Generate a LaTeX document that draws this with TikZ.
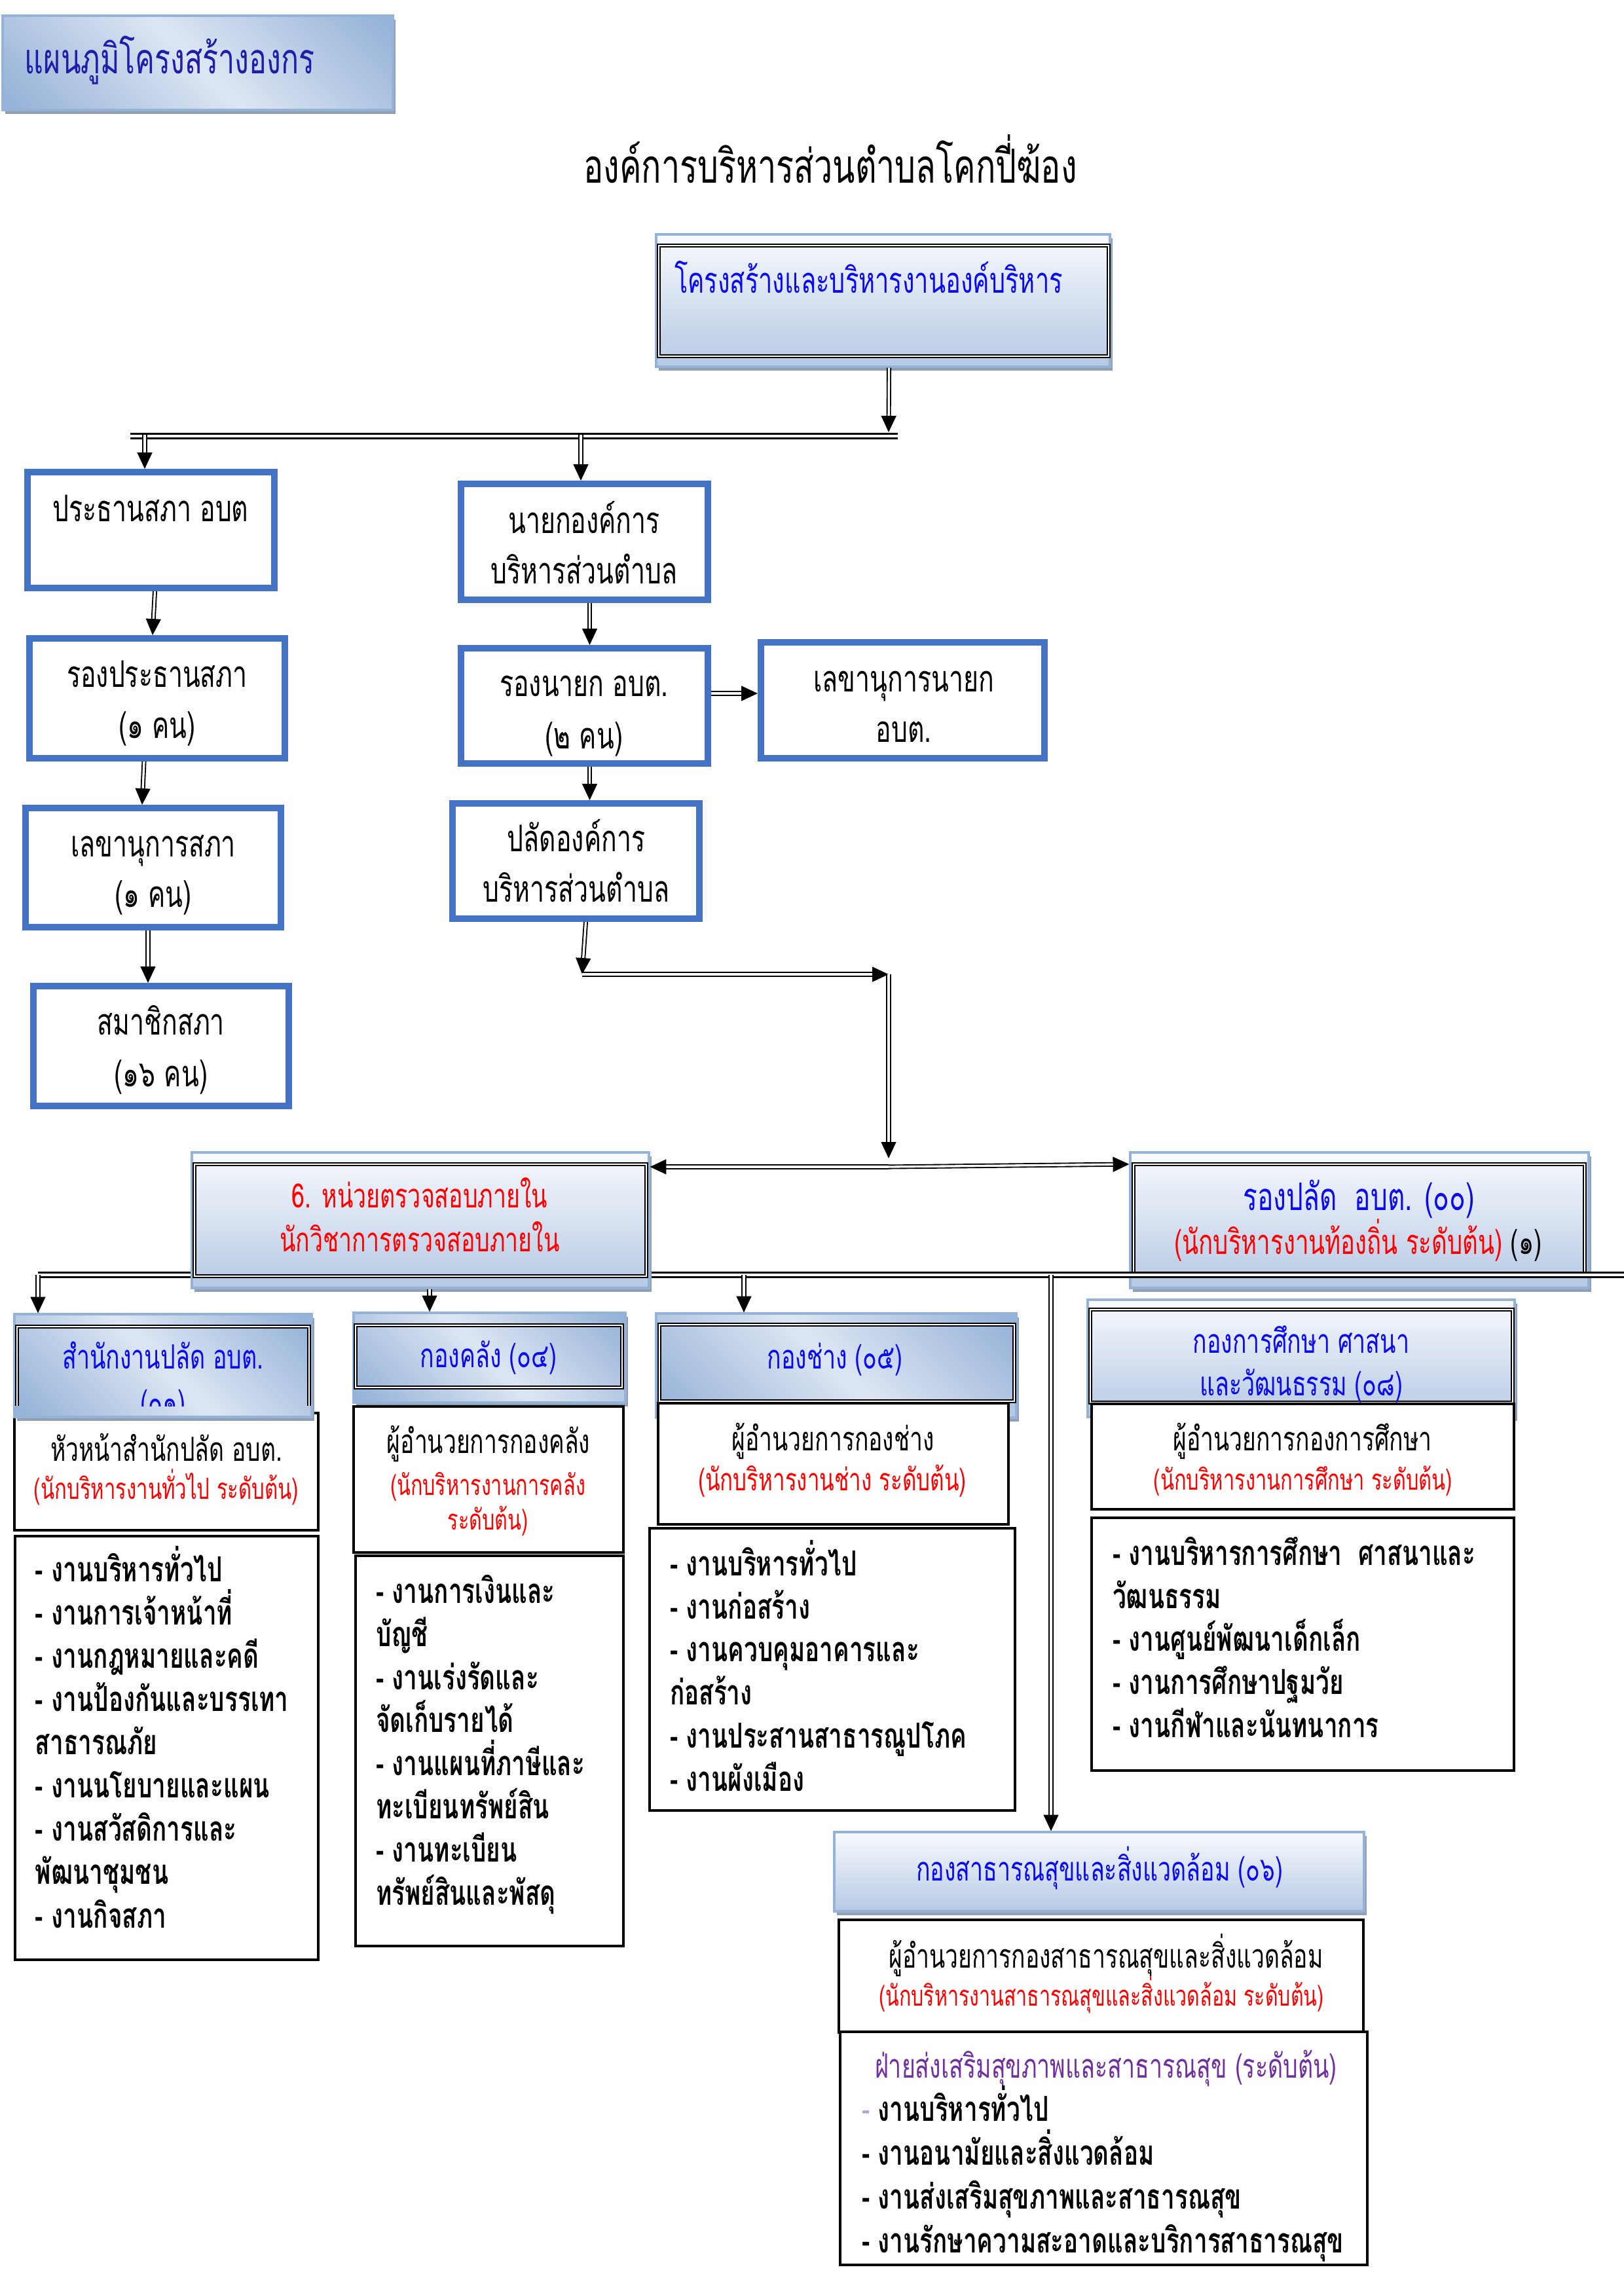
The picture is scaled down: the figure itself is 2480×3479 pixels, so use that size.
\documentclass[tikz,border=0pt]{standalone}
\usepackage{fontspec}
\setmainfont{Loma}[Script=Thai, FakeStretch=0.7]
\usetikzlibrary{arrows.meta,shadows,fit,calc}
\definecolor{bluebd}{RGB}{68,114,196}
\definecolor{ltbd}{RGB}{149,179,215}
\definecolor{shadc}{RGB}{146,158,178}
\definecolor{gtop}{RGB}{248,250,253}
\definecolor{gbot}{RGB}{182,201,228}
\definecolor{dgdk}{RGB}{149,178,216}
\definecolor{dglt}{RGB}{221,230,243}
\definecolor{tblue}{RGB}{10,10,240}
\definecolor{tdblue}{RGB}{30,30,170}
\definecolor{tred}{RGB}{255,0,0}
\definecolor{tpurple}{RGB}{112,48,160}
\definecolor{lpurple}{RGB}{180,160,210}
\pgfdeclarehorizontalshading{refl}{100bp}{color(0bp)=(dgdk); color(16bp)=(dgdk); color(50bp)=(dglt); color(84bp)=(dgdk); color(100bp)=(dgdk)}
\newcommand\fsz[1]{\fontsize{#1}{1.2\dimexpr#1\relax}\selectfont}
\newcommand\lns[7]{\foreach \itm [count=\i from 0] in {#7}{\node[#2, anchor=#3] (#1-\i) at (#4, {#5+\i*#6}) {\itm};}}
\begin{document}
\begin{tikzpicture}[x=0.2409pt,y=-0.2409pt,
 tx/.style={inner sep=0pt, outer sep=0pt, align=center, yshift=-1.8pt},
 bbox/.style={draw=bluebd, line width=2.4pt, inner sep=0pt, fill=white},
 kbox/.style={draw=black, line width=0.75pt, inner sep=0pt, fill=white},
 shd/.style={drop shadow={shadow xshift=1pt, shadow yshift=-1.4pt, fill=shadc, opacity=1}},
 vg/.style={draw=ltbd, line width=0.75pt, inner sep=0pt, top color=gtop, bottom color=gbot, shd},
 dg/.style={draw=ltbd, line width=0.75pt, inner sep=0pt, shade, shading=refl, shading angle=45, shd},
 dframe/.style={draw=black, line width=0.55pt, double=white, double distance=0.5pt},
 conn/.style={draw=black, line width=0.45pt, double=white, double distance=0.8pt, -{Triangle[length=6pt,width=5.5pt]}},
 bar/.style={draw=black, line width=0.8pt, double=white, double distance=1pt},
 lst/.style={tx, font=\fsz{12.7pt}\bfseries},
 up/.style={tx, font=\fsz{13.5pt}},
 hd/.style={tx, text=tblue, font=\fsz{12.3pt}},
 bk/.style={tx, font=\fsz{12.2pt}},
]
\useasboundingbox (0,0) rectangle (2480,3479);
\fill[white] (0,0) rectangle (2480,3479);
% title and heading
\node[dg, fit={(4,24) (600,168)}] (ttl) {};
\node[tx, anchor=mid west, text=tdblue, font=\fsz{15.4pt}] (ttlt) at (38,94) {แผนภูมิโครงสร้างองกร};
\node[tx, anchor=mid, font=\fsz{17.3pt}] (head) at (1268,261) {องค์การบริหารส่วนตำบลโคกปี่ฆ้อง};
% header box
\node[vg, fit={(1002,358) (1695,560)}] (hdr) {};
\draw[dframe] (1006,375) rectangle (1693,544);
\node[tx, anchor=mid west, text=tblue, font=\fsz{13.1pt}] (hdrt) at (1030,429) {โครงสร้างและบริหารงานองค์บริหาร};
% top bar
\coordinate (tbL) at (199,666); \coordinate (tbR) at (1371,666);
\draw[bar] (tbL) -- (tbR);
% council column
\node[bbox, fit={(42,721) (419,898)}] (p1) {};
\lns{p1t}{up}{mid}{230}{778}{78}{{ประธานสภา อบต}}
\node[bbox, fit={(45,975) (435,1158)}] (p2) {};
\lns{p2t}{up}{mid}{240}{1031}{78}{{รองประธานสภา},{(๑ คน)}}
\node[bbox, fit={(39,1234) (429,1416)}] (p3) {};
\lns{p3t}{up}{mid}{234}{1290}{77}{{เลขานุการสภา},{(๑ คน)}}
\node[bbox, fit={(51,1506) (441,1689)}] (p4) {};
\lns{p4t}{up}{mid}{246}{1562}{79}{{สมาชิกสภา},{(๑๖ คน)}}
% executive column
\node[bbox, fit={(704,739) (1081,916)}] (n1) {};
\lns{n1t}{up}{mid}{892}{796}{77}{{นายกองค์การ},{บริหารส่วนตำบล}}
\node[bbox, fit={(704,990) (1081,1166)}] (n2) {};
\lns{n2t}{up}{mid}{892}{1045}{80}{{รองนายก อบต.},{(๒ คน)}}
\node[bbox, fit={(1162,981) (1595,1158)}] (n3) {};
\lns{n3t}{up}{mid}{1380}{1038}{77}{{เลขานุการนายก},{อบต.}}
\node[bbox, fit={(691,1227) (1068,1403)}] (n4) {};
\lns{n4t}{up}{mid}{880}{1282}{77}{{ปลัดองค์การ},{บริหารส่วนตำบล}}
% deputy clerk box (under the bar)
\node[vg, fit={(1726,1760) (2426,1967)}] (rp) {};
\draw[dframe] (1731,1778) rectangle (2420,1948);
\node[tx, anchor=mid, text=tblue, font=\fsz{14pt}] (rpt-0) at (2075,1830) {รองปลัด\ \ อบต. (๐๐)};
\node[tx, anchor=mid, font=\fsz{12.6pt}] (rpt-1) at (2074,1897) {{\color{tred}(นักบริหารงานท้องถิ่น ระดับต้น)} (๑)};
% middle bar
\coordinate (mbL) at (58,1947); \coordinate (mbR) at (2480,1947);
\draw[bar] (mbL) -- (mbR);
% internal audit box
\node[vg, fit={(293,1760) (991,1967)}] (aud) {};
\draw[dframe] (297,1778) rectangle (987,1949);
\lns{audt}{tx,text=tred,font=\fsz{12.3pt}}{mid}{641}{1826}{67}{{6. หน่วยตรวจสอบภายใน},{นักวิชาการตรวจสอบภายใน}}
% column 1
\node[kbox, fit={(22,2158) (486,2337)}] (b1) {};
\node[dg, fit={(22,2007) (476,2164)}] (h1) {};
\draw[dframe] (26,2147) -- (26,2026) -- (472,2026) -- (472,2147);
\node[hd, anchor=mid] (h1t-0) at (249,2072) {สำนักงานปลัด อบต.};
\begin{scope}
\clip (26,2026) rectangle (472,2147);
\node[hd, anchor=mid] (h1t-1) at (249,2141) {(๐๑)};
\end{scope}
\node[bk, anchor=mid] (b1t-0) at (254,2213) {หัวหน้าสำนักปลัด อบต.};
\node[tx, anchor=mid, text=tred, font=\fsz{10.7pt}] (b1t-1) at (254,2271) {(นักบริหารงานทั่วไป ระดับต้น)};
\node[kbox, fit={(23,2346) (486,2993)}] (l1) {};
\lns{l1t}{lst}{mid west}{54}{2397}{66.1}{{- งานบริหารทั่วไป},{- งานการเจ้าหน้าที่},{- งานกฎหมายและคดี},{- งานป้องกันและบรรเทา},{สาธารณภัย},{- งานนโยบายและแผน},{- งานสวัสดิการและ},{พัฒนาชุมชน},{- งานกิจสภา}}
% column 2
\node[dg, fit={(540,2005) (955,2142)}] (h2) {};
\draw[dframe] (543,2024) rectangle (950,2119);
\node[hd, anchor=mid] (h2t) at (746,2070) {กองคลัง (๐๔)};
\node[kbox, fit={(540,2148) (952,2371)}] (b2) {};
\node[bk, anchor=mid] (b2t-0) at (746,2201) {ผู้อำนวยการกองคลัง};
\lns{b2r}{tx,text=tred,font=\fsz{10.5pt}}{mid}{745}{2265}{53}{{(นักบริหารงานการคลัง},{ระดับต้น)}}
\node[kbox, fit={(543,2376) (952,2972)}] (l2) {};
\lns{l2t}{lst}{mid west}{574}{2430}{65.9}{{- งานการเงินและ},{บัญชี},{- งานเร่งรัดและ},{จัดเก็บรายได้},{- งานแผนที่ภาษีและ},{ทะเบียนทรัพย์สิน},{- งานทะเบียน},{ทรัพย์สินและพัสดุ}}
% column 3
\node[dg, fit={(1002,2006) (1552,2165)}] (h3) {};
\draw[dframe] (1007,2023) rectangle (1549,2140);
\node[hd, anchor=mid] (h3t) at (1275,2072) {กองช่าง (๐๕)};
\node[kbox, fit={(1005,2143) (1540,2328)}] (b3) {};
\node[bk, anchor=mid] (b3t-0) at (1272,2197) {ผู้อำนวยการกองช่าง};
\node[tx, anchor=mid, text=tred, font=\fsz{11.4pt}] (b3t-1) at (1271,2258) {(นักบริหารงานช่าง ระดับต้น)};
\node[kbox, fit={(992,2334) (1550,2765)}] (l3) {};
\lns{l3t}{lst}{mid west}{1023}{2388}{65.8}{{- งานบริหารทั่วไป},{- งานก่อสร้าง},{- งานควบคุมอาคารและ},{ก่อสร้าง},{- งานประสานสาธารณูปโภค},{- งานผังเมือง}}
% column 4
\node[vg, fit={(1661,1985) (2313,2164)}] (h4) {};
\draw[dframe] (1665,2000) rectangle (2310,2142);
\lns{h4t}{hd}{mid}{1987}{2048}{65}{{กองการศึกษา ศาสนา},{และวัฒนธรรม (๐๘)}}
\node[kbox, fit={(1667,2144) (2312,2305)}] (b4) {};
\node[bk, anchor=mid] (b4t-0) at (1989,2197) {ผู้อำนวยการกองการศึกษา};
\node[tx, anchor=mid, text=tred, font=\fsz{10.6pt}] (b4t-1) at (1990,2257) {(นักบริหารงานการศึกษา ระดับต้น)};
\node[kbox, fit={(1667,2318) (2312,2704)}] (l4) {};
\lns{l4t}{lst}{mid west}{1699}{2372}{65.8}{{- งานบริหารการศึกษา\ \ ศาสนาและ},{วัฒนธรรม},{- งานศูนย์พัฒนาเด็กเล็ก},{- งานการศึกษาปฐมวัย},{- งานกีฬาและนันทนาการ}}
% public health
\node[vg, fit={(1274,2798) (2083,2919)}] (h5) {};
\node[hd, anchor=mid] (h5t) at (1679,2854) {กองสาธารณสุขและสิ่งแวดล้อม (๐๖)};
\node[kbox, fit={(1281,2932) (2082,3104)}] (b5) {};
\node[bk, anchor=mid] (b5t-0) at (1689,2987) {ผู้อำนวยการกองสาธารณสุขและสิ่งแวดล้อม};
\node[tx, anchor=mid, text=tred, font=\fsz{10.45pt}] (b5t-1) at (1682,3045) {(นักบริหารงานสาธารณสุขและสิ่งแวดล้อม ระดับต้น)};
\node[kbox, fit={(1283,3103) (2088,3459)}] (l5) {};
\node[tx, anchor=mid west, text=tpurple, font=\fsz{12.3pt}] (l5h) at (1336,3155) {ฝ่ายส่งเสริมสุขภาพและสาธารณสุข (ระดับต้น)};
\lns{l5t}{lst}{mid west}{1316}{3221}{67}{{{\color{lpurple}\mdseries -} งานบริหารทั่วไป},{- งานอนามัยและสิ่งแวดล้อม},{- งานส่งเสริมสุขภาพและสาธารณสุข},{- งานรักษาความสะอาดและบริการสาธารณสุข}}
% connectors
\coordinate (tbA) at (1357,660);
\draw[conn] ($(hdr.south)+(9,0)$) -- (tbA);
\coordinate (d1) at (221,664);
\draw[conn] (d1) -- (d1 |- p1.north);
\coordinate (d2) at (887,664);
\draw[conn] (d2) -- (d2 |- n1.north);
\draw[conn] ($(p1.south)+(6,0)$) -- ($(p2.north)+(-7,0)$);
\draw[conn] ($(p2.south)+(-20,0)$) -- ($(p3.north)+(-17,0)$);
\draw[conn] ($(p3.south)+(-8,0)$) -- ($(p4.north)+(-20,0)$);
\draw[conn] ($(n1.south)+(8,0)$) -- ($(n2.north)+(8,0)$);
\draw[conn] ($(n2.south)+(8,0)$) -- ($(n4.north)+(21,0)$);
\draw[conn] (n2.east |- 0,1059) -- (n3.west |- 0,1059);
\coordinate (k1) at (889,1488);
\coordinate (k2) at (1357,1488);
\coordinate (k3) at (1357,1769);
\coordinate (k4) at (1357,1782);
\draw[conn] ($(n4.south)+(15,0)$) -- (k1);
\draw[conn] (k1) -- (k2);
\draw[conn] (k2) -- (k3);
\draw[conn] (k4) -- (aud.east |- k4);
\draw[conn] (k4) -- (rp.west |- 0,1778);
\coordinate (e1) at (58,1947);
\coordinate (e2) at (656,1947);
\coordinate (e3) at (1136,1947);
\coordinate (e4) at (1605,1947);
\draw[conn] (e1) -- (e1 |- h1.north);
\draw[conn] (e2 |- aud.south) -- (e2 |- h2.north);
\draw[conn] (e3) -- (e3 |- h3.north);
\draw[conn] (e4) -- (e4 |- h5.north);
\end{tikzpicture}
\end{document}
